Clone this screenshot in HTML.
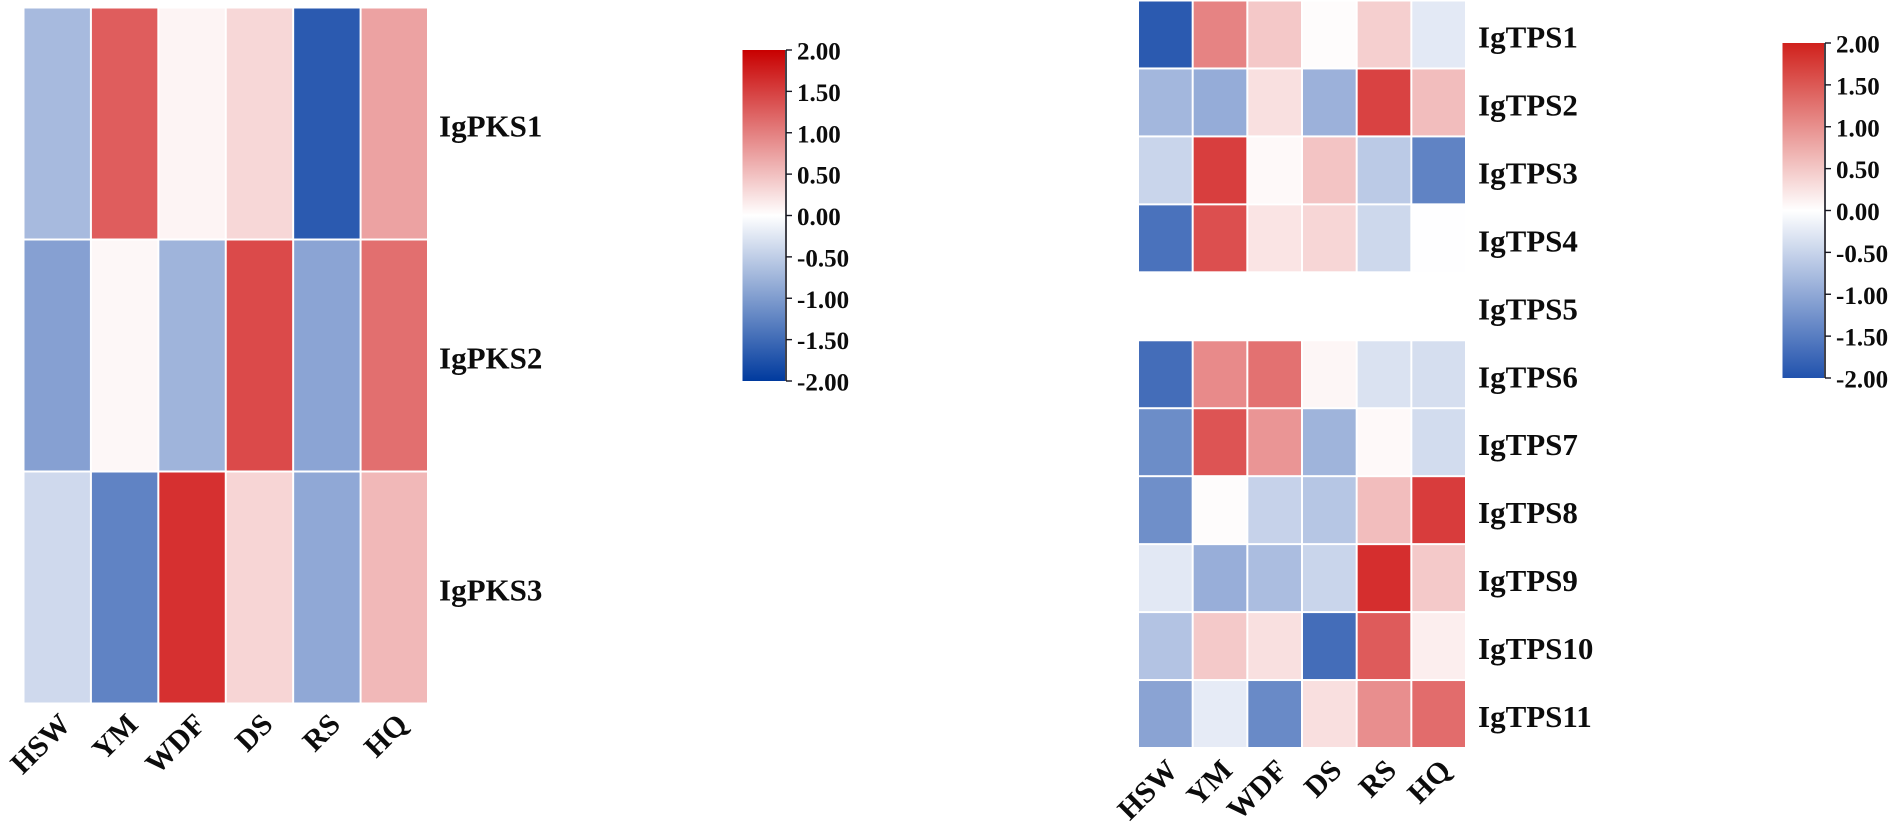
<!DOCTYPE html>
<html lang="en">
<head>
<meta charset="utf-8">
<title>IgPKS and IgTPS expression heatmaps</title>
<style>
html,body{margin:0;padding:0;background:#fff;width:1902px;height:826px;overflow:hidden}
svg{display:block}
text{font-family:"Liberation Serif",serif;font-weight:bold;fill:#0c0c0c}
</style>
</head>
<body>
<svg id="chart" xmlns="http://www.w3.org/2000/svg" width="1902" height="826" viewBox="0 0 1902 826">
  <defs>
    <linearGradient id="gradLeft" x1="0" y1="0" x2="0" y2="1">
      <stop offset="0" stop-color="#c80000"/>
      <stop offset="0.5" stop-color="#ffffff"/>
      <stop offset="1" stop-color="#003a9e"/>
    </linearGradient>
    <linearGradient id="gradRight" x1="0" y1="0" x2="0" y2="1">
      <stop offset="0" stop-color="#d0211c"/>
      <stop offset="0.5" stop-color="#ffffff"/>
      <stop offset="1" stop-color="#2152ad"/>
    </linearGradient>
  </defs>
  <g id="pksPanel"></g>
  <g id="tpsPanel"></g>
  <g id="pksLegend"></g>
  <g id="tpsLegend"></g>
</svg>
<script>
const sampleLabels = ['HSW', 'YM', 'WDF', 'DS', 'RS', 'HQ'];
const pksGenes = ['IgPKS1', 'IgPKS2', 'IgPKS3'];
const pksValues = [
  [-0.69, 1.27, 0.09, 0.31, -1.66, 0.73],
  [-0.95, 0.06, -0.75, 1.42, -0.91, 1.13],
  [-0.38, -1.25, 1.62, 0.33, -0.87, 0.56]
];
const tpsGenes = ['IgTPS1', 'IgTPS2', 'IgTPS3', 'IgTPS4', 'IgTPS5', 'IgTPS6', 'IgTPS7', 'IgTPS8', 'IgTPS9', 'IgTPS10', 'IgTPS11'];
const tpsValues = [
  [-1.66, 0.97, 0.43, 0.02, 0.38, -0.22],
  [-0.72, -0.83, 0.24, -0.78, 1.48, 0.52],
  [-0.42, 1.51, 0.05, 0.46, -0.53, -1.25],
  [-1.42, 1.38, 0.21, 0.32, -0.39, -0.01],
  [null, null, null, null, null, null],
  [-1.47, 0.92, 1.11, 0.07, -0.29, -0.33],
  [-1.15, 1.34, 0.83, -0.75, 0.05, -0.35],
  [-1.13, 0.02, -0.45, -0.57, 0.52, 1.53],
  [-0.23, -0.81, -0.66, -0.42, 1.64, 0.42],
  [-0.6, 0.42, 0.24, -1.47, 1.29, 0.13],
  [-0.92, -0.2, -1.18, 0.25, 0.89, 1.15]
];
const scaleTicks = [2, 1.5, 1, 0.5, 0, -0.5, -1, -1.5, -2];
const scaleTickLabels = ['2.00', '1.50', '1.00', '0.50', '0.00', '-0.50', '-1.00', '-1.50', '-2.00'];

const SVG_NS = 'http://www.w3.org/2000/svg';

function colorFor(v) {
  const t = Math.min(1, Math.abs(v) / 2);
  const end = v >= 0 ? [204, 0, 0] : [0, 56, 160];
  const c = end.map(e => Math.round(255 + (e - 255) * t));
  return 'rgb(' + c.join(',') + ')';
}

function drawHeatmap(panel, values, genes, box, labelX, labelOffsetX, labelY) {
  const pitchX = (box.right - box.left) / sampleLabels.length;
  const pitchY = (box.bottom - box.top) / genes.length;
  const xScale = j => box.left + j * pitchX;
  const yScale = i => box.top + i * pitchY;

  values.forEach((row, i) => {
    row.forEach((v, j) => {
      if (v === null) return;
      const cell = document.createElementNS(SVG_NS, 'rect');
      
      
      cell.setAttribute('x', xScale(j) + 1);
      cell.setAttribute('y', yScale(i) + 1);
      cell.setAttribute('width', pitchX - 2);
      cell.setAttribute('height', pitchY - 2);
      cell.setAttribute('fill', colorFor(v));
      panel.appendChild(cell);
    });
  });

  genes.forEach((g, i) => {
    const t = document.createElementNS(SVG_NS, 'text');
    
    
    t.setAttribute('x', labelX);
    t.setAttribute('y', yScale(i) + pitchY / 2 + 13);
    t.setAttribute('font-size', '31');
    t.textContent = g;
    panel.appendChild(t);
  });

  sampleLabels.forEach((s, j) => {
    const ax = xScale(j) + pitchX / 2 + labelOffsetX;
    const t = document.createElementNS(SVG_NS, 'text');
    
    
    t.setAttribute('x', ax);
    t.setAttribute('y', labelY);
    t.setAttribute('font-size', '30');
    t.setAttribute('text-anchor', 'end');
    t.setAttribute('transform', 'rotate(-45 ' + ax + ' ' + labelY + ')');
    t.textContent = s;
    panel.appendChild(t);
  });
}

function drawScale(group, gradId, box) {
  const yScale = v => box.bottom + (box.top - box.bottom) * (v + 2) / 4;

  const bar = document.createElementNS(SVG_NS, 'rect');
  
  
  bar.setAttribute('x', box.left);
  bar.setAttribute('y', box.top);
  bar.setAttribute('width', box.right - box.left);
  bar.setAttribute('height', box.bottom - box.top);
  bar.setAttribute('fill', 'url(#' + gradId + ')');
  group.appendChild(bar);

  const axis = document.createElementNS(SVG_NS, 'line');
  
  
  axis.setAttribute('x1', box.right + 1);
  axis.setAttribute('x2', box.right + 1);
  axis.setAttribute('y1', box.top);
  axis.setAttribute('y2', box.bottom);
  axis.setAttribute('stroke', '#14141e');
  axis.setAttribute('stroke-width', '1.6');
  group.appendChild(axis);

  scaleTicks.forEach((v, k) => {
    const y = yScale(v);
    const tick = document.createElementNS(SVG_NS, 'line');
    
    
    tick.setAttribute('x1', box.right + 1);
    tick.setAttribute('x2', box.right + 7);
    tick.setAttribute('y1', y);
    tick.setAttribute('y2', y);
    tick.setAttribute('stroke', '#14141e');
    tick.setAttribute('stroke-width', '1.4');
    group.appendChild(tick);

    const t = document.createElementNS(SVG_NS, 'text');
    
    
    t.setAttribute('x', box.right + 12);
    t.setAttribute('y', y + 9.5);
    t.setAttribute('font-size', '25');
    t.textContent = scaleTickLabels[k];
    group.appendChild(t);
  });
}

drawHeatmap(document.getElementById('pksPanel'), pksValues, pksGenes,
  {left: 23.5, right: 428, top: 7.5, bottom: 703.5}, 439, 15, 726);
drawHeatmap(document.getElementById('tpsPanel'), tpsValues, tpsGenes,
  {left: 1138, right: 1466, top: 0.5, bottom: 748}, 1478, 14, 772);
drawScale(document.getElementById('pksLegend'), 'gradLeft',
  {left: 742.5, right: 785, top: 50, bottom: 381});
drawScale(document.getElementById('tpsLegend'), 'gradRight',
  {left: 1782.5, right: 1824, top: 43, bottom: 378});
</script>
</body>
</html>
